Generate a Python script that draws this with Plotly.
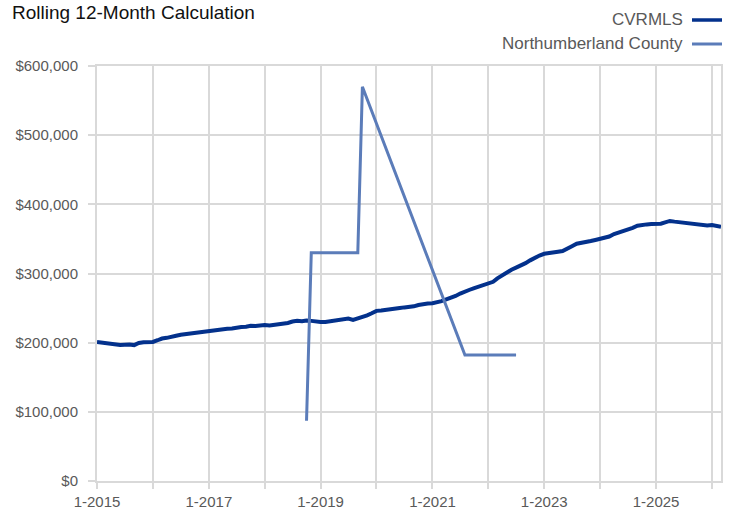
import plotly.graph_objects as go
import pandas as pd

# ---- data ----
months = pd.date_range("2015-01-01", "2026-03-01", freq="MS")

cvrmls = [
    201, 200, 198.5, 198, 196.5, 196.5, 197, 197.5, 196.5, 199.5, 200.5, 200.5,    # 2015
    201, 203.5, 206, 207, 209, 210, 211.5, 212.5, 213.5, 214.5, 215, 216,          # 2016
    217, 217.5, 218.5, 219, 220, 220.5, 222, 222.5, 223, 224.5, 224, 225,          # 2017
    225.5, 225, 225.5, 226, 227.5, 228.5, 230.5, 231.5, 231, 232, 231.5, 230.5,    # 2018
    230, 230, 231, 232.5, 233.5, 234.5, 235, 233, 235, 237, 239.5, 242.5,          # 2019
    246, 246.5, 247, 248, 249, 250, 251, 251.5, 252.5, 254.5, 256, 256.5,          # 2020
    257, 258, 260, 262.5, 264.5, 267.5, 271, 274.5, 276.5, 279, 281, 283,          # 2021
    285, 288, 293, 297.5, 302, 305.5, 308.5, 311.5, 315, 319, 323, 326,            # 2022
    328.5, 330, 331, 331.5, 332.5, 335.5, 339.5, 343, 344, 345.5, 347, 348.5,      # 2023
    350, 351, 353.5, 357, 359, 361.5, 363, 366, 369, 370.5, 371, 371.5,            # 2024
    371.5, 372, 374, 376, 375, 374, 373.5, 372, 371, 370, 369.5, 369.5,            # 2025
    370, 369, 367.5,                                                                # 2026
]
cvrmls = [v * 1000 for v in cvrmls]

north_dates = ["2018-10-01", "2018-11-01", "2018-12-01", "2019-01-01", "2019-02-01",
               "2019-03-01", "2019-04-01", "2019-05-01", "2019-06-01", "2019-07-01",
               "2019-08-01", "2019-09-01", "2019-10-01", "2021-08-01", "2021-09-01",
               "2021-10-01", "2021-11-01", "2021-12-01", "2022-01-01", "2022-02-01",
               "2022-03-01", "2022-04-01", "2022-05-01", "2022-06-01", "2022-07-01"]
north_values = [87000, 330000, 330000, 330000, 330000,
                330000, 330000, 330000, 330000, 330000,
                330000, 330000, 570000, 182000, 182000,
                182000, 182000, 182000, 182000, 182000,
                182000, 182000, 182000, 182000, 182000]

series_names = ["CVRMLS", "Northumberland County"]
year_ticks = pd.date_range("2015-01-01", "2026-01-01", freq="YS")
tick_text = [f"1-{d.year}" if (d.year - 2015) % 2 == 0 else "" for d in year_ticks]
y_ticks = [0, 100000, 200000, 300000, 400000, 500000, 600000]
y_text = ["$0", "$100,000", "$200,000", "$300,000", "$400,000", "$500,000", "$600,000"]

# ---- style ----
c_dark = "#03318c"
c_light = "#5b7cb9"
grid = "#d9d9d9"
font_fam = "Liberation Sans, Arial, sans-serif"
txt = "#595959"

fig = go.Figure()
fig.add_trace(go.Scatter(x=months, y=cvrmls, mode="lines", name=series_names[0],
                         line=dict(color=c_dark, width=4), showlegend=False))
fig.add_trace(go.Scatter(x=pd.to_datetime(north_dates), y=north_values, mode="lines",
                         name=series_names[1], line=dict(color=c_light, width=3),
                         showlegend=False))

L, R, T, B = 97, 12, 66, 34
W, H = 733, 515
pw, ph = W - L - R, H - T - B

def px_to_paper(xp, yp):
    return (xp - L) / pw, (H - B - yp) / ph

# manual legend (text left of line sample, right aligned)
for name, col, ypx, lw in [(series_names[0], c_dark, 19, 3.5), (series_names[1], c_light, 43, 3)]:
    xa, ya = px_to_paper(685, ypx)
    fig.add_annotation(x=xa, y=ya, xref="paper", yref="paper", text=name, showarrow=False,
                       xanchor="right", yanchor="middle",
                       font=dict(family=font_fam, size=17, color=txt))
    x0, yl = px_to_paper(692, ypx + 1)
    x1, _ = px_to_paper(722, ypx + 1)
    fig.add_shape(type="line", xref="paper", yref="paper", x0=x0, x1=x1, y0=yl, y1=yl,
                  line=dict(color=col, width=lw))

fig.update_layout(
    width=W, height=H, autosize=False,
    margin=dict(l=L, r=R, t=T, b=B, pad=0, autoexpand=False),
    paper_bgcolor="white", plot_bgcolor="white",
    title=dict(text="Rolling 12-Month Calculation", x=12 / W, xanchor="left",
               y=1 - 12 / H, yanchor="middle", xref="container", yref="container",
               font=dict(family=font_fam, size=19, color="#111111")),
    font=dict(family=font_fam, size=15, color=txt),
)
fig.update_xaxes(
    type="date", range=[months[0], months[-1]], automargin=False,
    tickmode="array", tickvals=year_ticks, ticktext=tick_text,
    showgrid=True, gridcolor=grid, gridwidth=2,
    showline=True, linecolor=grid, linewidth=2, mirror=True,
    ticks="outside", ticklen=6, tickcolor=grid, tickwidth=2,
    tickfont=dict(family=font_fam, size=15, color=txt), zeroline=False,
)
fig.update_yaxes(
    range=[0, 600000], tickmode="array", tickvals=y_ticks, ticktext=y_text, automargin=False,
    showgrid=True, gridcolor=grid, gridwidth=2,
    showline=True, linecolor=grid, linewidth=2, mirror=True,
    ticks="outside", ticklen=7, tickcolor=grid, tickwidth=2,
    ticklabelstandoff=7,
    tickfont=dict(family=font_fam, size=15, color=txt), zeroline=False,
)

fig.write_html("out.html", config={"displayModeBar": False, "responsive": False},
               post_script="document.body.style.margin='0';")
